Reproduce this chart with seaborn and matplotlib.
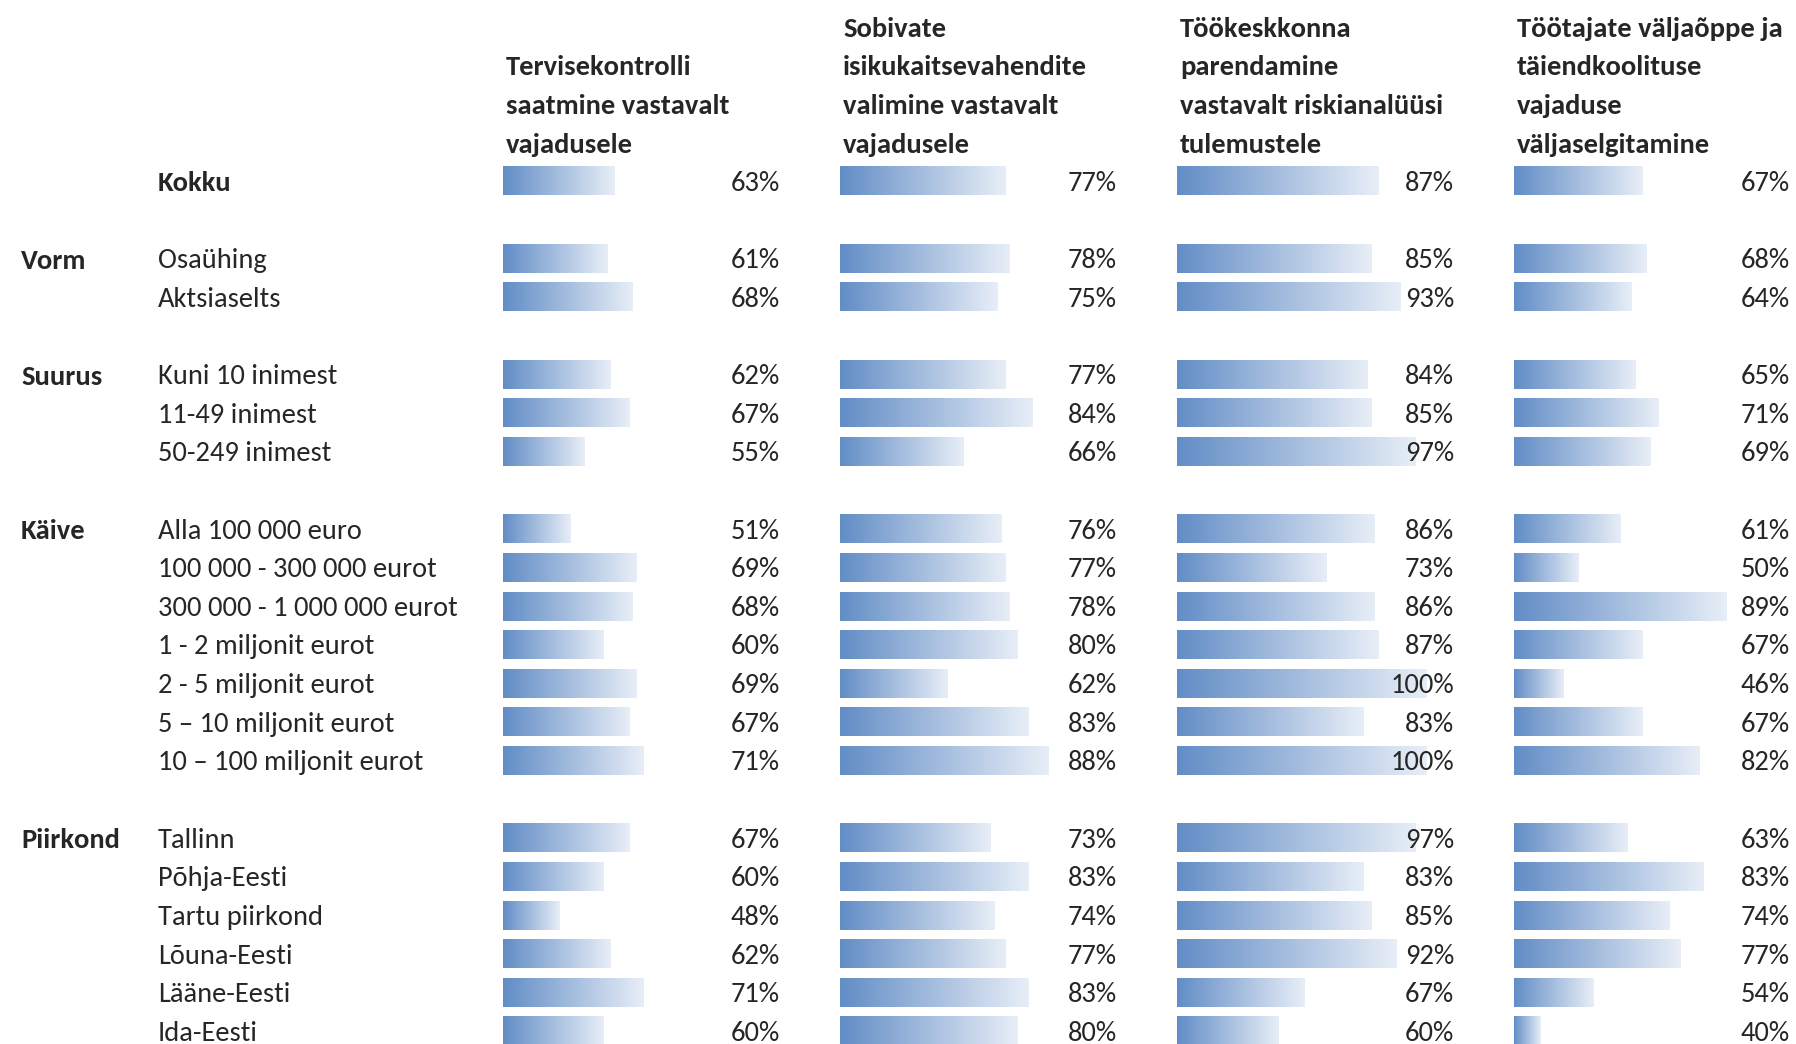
import matplotlib
matplotlib.use('Agg')
import numpy as np
import pandas as pd
import matplotlib.pyplot as plt
import seaborn as sns
from matplotlib import font_manager
from matplotlib.colors import LinearSegmentedColormap

# --- data -------------------------------------------------------------
groups = ['', 'Vorm', 'Suurus', 'Käive', 'Piirkond']
group_rows = [
    ['Kokku'],
    ['Osaühing', 'Aktsiaselts'],
    ['Kuni 10 inimest', '11-49 inimest', '50-249 inimest'],
    ['Alla 100 000 euro', '100 000 - 300 000 eurot', '300 000 - 1 000 000 eurot',
     '1 - 2 miljonit eurot', '2 - 5 miljonit eurot', '5 – 10 miljonit eurot',
     '10 – 100 miljonit eurot'],
    ['Tallinn', 'Põhja-Eesti', 'Tartu piirkond', 'Lõuna-Eesti', 'Lääne-Eesti', 'Ida-Eesti'],
]

headers = [
    ['Tervisekontrolli', 'saatmine vastavalt', 'vajadusele'],
    ['Sobivate', 'isikukaitsevahendite', 'valimine vastavalt', 'vajadusele'],
    ['Töökeskkonna', 'parendamine', 'vastavalt riskianalüüsi', 'tulemustele'],
    ['Töötajate väljaõppe ja', 'täiendkoolituse', 'vajaduse', 'väljaselgitamine'],
]

tervisekontroll = [63, 61, 68, 62, 67, 55, 51, 69, 68, 60, 69, 67, 71, 67, 60, 48, 62, 71, 60]
isikukaitse = [77, 78, 75, 77, 84, 66, 76, 77, 78, 80, 62, 83, 88, 73, 83, 74, 77, 83, 80]
tookeskkond = [87, 85, 93, 84, 85, 97, 86, 73, 86, 87, 100, 83, 100, 97, 83, 85, 92, 67, 60]
valjaope = [67, 68, 64, 65, 71, 69, 61, 50, 89, 67, 46, 67, 82, 63, 83, 74, 77, 54, 40]
columns = [tervisekontroll, isikukaitse, tookeskkond, valjaope]

# --- layout (pixels of the 1796x1044 canvas) ----------------------------
W, H = 1796, 1044
ROW0, PITCH = 181, 38.64
col_left = [503, 840, 1177, 1514]
col_right = [780, 1117, 1454, 1790]
col_origin = [32.8, 34.2, 32.4, 33.0]      # value where a bar has zero length
col_slope = [3.69, 3.87, 3.69, 3.79]       # px per percentage point
ylim = ((H - ROW0) / PITCH, -ROW0 / PITCH)
DY = 0.06                                  # small downward nudge of text

# row positions: one blank row between groups
positions, labels, group_pos = [], [], []
r = 0
for g, items in zip(groups, group_rows):
    group_pos.append(r)
    for it in items:
        positions.append(r)
        labels.append(it)
        r += 1
    r += 1

available = {f.name for f in font_manager.fontManager.ttflist}
sizes = {'Carlito': 20.5, 'Liberation Sans Narrow': 21, 'Lato': 18.7, 'DejaVu Sans': 16.5}
FONT = next(f for f in sizes if f in available)
FS = sizes[FONT]

sns.set_theme(style='white')
plt.rcParams['font.family'] = [FONT, 'DejaVu Sans']

cmap = LinearSegmentedColormap.from_list('bar', ['#628DC6', '#E8EEF7'])
grad = np.linspace(0, 1, 256).reshape(1, -1)

fig = plt.figure(figsize=(W / 100, H / 100), dpi=100)
fig.patch.set_facecolor('white')

# text axes in pixel x, row y
lab = fig.add_axes([0, 0, 1, 1])
lab.set_xlim(0, W)
lab.set_ylim(*ylim)
lab.axis('off')

for g, gp in zip(groups, group_pos):
    if g:
        lab.text(21, gp + DY, g, ha='left', va='center', fontsize=FS, fontweight='bold')
for lbl, p in zip(labels, positions):
    lab.text(158, p + DY, lbl, ha='left', va='center', fontsize=FS,
             fontweight='bold' if lbl == 'Kokku' else 'normal')

for c, vals in enumerate(columns):
    x0, x1 = col_left[c], col_right[c]
    ax = fig.add_axes([x0 / W, 0, (x1 - x0) / W, 1])
    df = pd.DataFrame({'pos': positions, 'value': vals})
    sns.barplot(data=df, x='value', y='pos', orient='h', native_scale=True,
                width=0.75, color='#628DC6', errorbar=None, ax=ax)
    xlo = col_origin[c]
    xhi = xlo + (x1 - x0) / col_slope[c]
    for p in list(ax.patches):
        xe = p.get_x() + p.get_width()
        yb, h = p.get_y(), p.get_height()
        p.set_facecolor('none')
        p.set_edgecolor('none')
        ax.imshow(grad, cmap=cmap, extent=(xlo, xe, yb, yb + h), aspect='auto',
                  interpolation='bilinear', clip_path=p, zorder=2)
    for v, pos in zip(vals, positions):
        ax.text(xhi, pos + DY, f'{v}%', ha='right', va='center', fontsize=FS, zorder=5)
    ax.set_xlim(xlo, xhi)
    ax.set_ylim(*ylim)
    ax.axis('off')

    hdr = headers[c]
    for k, line in enumerate(hdr):
        lab.text(x0 + 3, -len(hdr) + k + DY, line, ha='left', va='center',
                 fontsize=FS, fontweight='bold')

fig.savefig('out.png', dpi=100)
